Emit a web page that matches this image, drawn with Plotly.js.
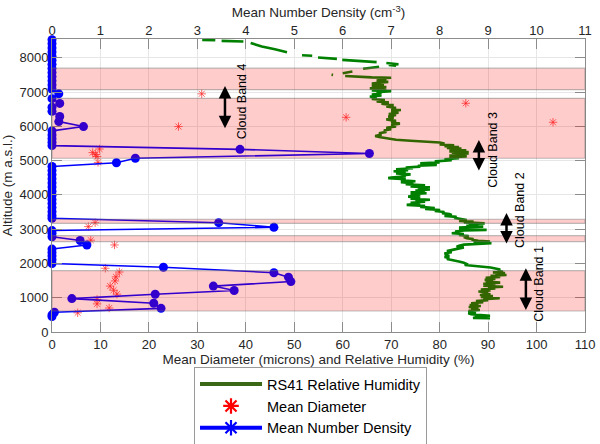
<!DOCTYPE html>
<html>
<head>
<meta charset="utf-8">
<script src="https://cdn.plot.ly/plotly-3.0.1.min.js"></script>
<style>body{margin:0;background:#fff}#chart{width:600px;height:444px}</style>
</head>
<body>
<div id="chart"></div>
<script>
// RS41 radiosonde relative humidity profile (null = gap in the record)
var rhAlt = [8525, 8515, 8510, 8495, 8475, 8460, 8435, 8330, 8250, 8165,
  8120, 8075, 8060, 8040, 8010, 7970, 7955, 7940, 7875, 7865,
  7850, 7815, 7790, 7770, 7760, 7740, 7710, 7680, 7650, 7600,
  7575, 7550, 7530, 7510, 7500, 7490, 7470, 7450, 7430, 7420, 7400,
  7360, 7330, 7300, 7250, 7220, 7180, 7150, 7110, 7080, 7050,
  7030, 7000, 6960, 6930, 6900, 6870, 6830, 6800, 6770, 6730,
  6700, 6660, 6620, 6580, 6540, 6500, 6480, 6440, 6400, 6360,
  6330, 6290, 6250, 6200, 6160, 6120, 6080, 6040, 6000, 5960,
  5920, 5880, 5840, 5800, 5760, 5720, 5690, 5650, 5610, 5580,
  5560, 5530, 5500, 5470, 5450, 5420, 5400, 5370, 5350, 5320,
  5300, 5270, 5250, 5230, 5210, 5190, 5170, 5150, 5120, 5100,
  5070, 5040, 5010, 4980, 4950, 4920, 4900, 4875, 4850, 4825,
  4800, 4780, 4750, 4720, 4690, 4660, 4630, 4600, 4570, 4540,
  4510, 4490, 4460, 4430, 4400, 4370, 4340, 4310, 4280, 4250,
  4220, 4190, 4160, 4130, 4100, 4080, 4050, 4020, 3990, 3950,
  3920, 3890, 3860, 3830, 3800, 3770, 3740, 3710, 3680, 3650,
  3620, 3590, 3560, 3530, 3500, 3470, 3440, 3415, 3390, 3360,
  3330, 3300, 3270, 3240, 3220, 3200, 3170, 3150, 3120, 3100,
  3075, 3050, 3030, 3000, 2980, 2960, 2930, 2900, 2880, 2860,
  2830, 2800, 2770, 2735, 2710, 2690, 2660, 2640, 2620, 2590,
  2570, 2550, 2520, 2490, 2470, 2445, 2420, 2390, 2360, 2330,
  2300, 2270, 2250, 2220, 2190, 2160, 2130, 2100, 2070, 2050,
  2020, 1990, 1955, 1930, 1905, 1880, 1850, 1820, 1790, 1760,
  1740, 1720, 1690, 1665, 1640, 1610, 1580, 1550, 1520, 1500,
  1470, 1440, 1410, 1380, 1350, 1320, 1300, 1270, 1240, 1210,
  1180, 1160, 1130, 1100, 1080, 1050, 1020, 985, 960, 930,
  900, 870, 840, 815, 790, 760, 730, 700, 670, 640,
  620, 595, 570, 545, 520, 490, 470, 450, 430, 410,
  400];
var rhVal = [31, 33.7, null, 35, 39.5, null, 41, 43.3, 46, 48.5,
  null, 51.6, 53.7, null, 54.9, 58.8, null, 59.9, 67, null,
  69, 71.5, 69.5, 71, null, 67.5, 66, 64.2, null, 62,
  61, 60, null, 57.7, 58, null, 60.5, 63, 66, 70, 67,
  69, 67, 69.4, 66, 68.5, 66, 69, 65.6, 69, 66,
  70, 67, 68, 66, 68, 65.6, 67, 66, 68.7, 67,
  69.5, 68, 70.5, 69, 71, 70, 72, 70, 71.5, 69.5,
  71, 69.4, 70.5, 69, 71, 70, 71.8, 70, 71, 69,
  70, 68.5, 69, 67.5, 68, 66.7, 67.5, 69.5, 71, 74,
  77, 80, 81, 80, 83, 81, 84, 81.5, 84.5, 82,
  85.5, 82, 86, 82.5, 86, 83, 85.6, 82, 85.6, 82,
  84, 81, 82.5, 79, 80, 76, 78.5, 79.4, 75.5, 76,
  73, 74.5, 71, 73.5, 70.5, 73, 71, 74, 72, 73,
  70, 69.4, 73, 72, 75, 72, 74.6, 73, 77, 74,
  78, 75.5, 78, 75, 77, 74, 77.3, 74, 76, 73.5,
  76, 74, 78, 75, 77, 74, 76, 73.2, 77, 76,
  79, 77, 80.1, 79, 81, 80.5, 82, 82.5, 81, 83.5,
  83, 85, 85.6, 84, 87, 85, 89.3, 86, 88, 85.5,
  89, 84, 86, 84, 89.7, 85, 83.2, 84, 82.5, 85,
  84, 86, 85, 85.6, 87, 86.6, 88, 90.4, 87, 90.7,
  86, 85, 84, 83.5, 85, 84.2, 83, 82, 81.5, 82.5,
  81, 81.5, 81.4, 82, 81, 82, 81.5, 82.5, 84, 84.2,
  85, 85.5, 85.2, 87, 89.7, 90.5, 91.5, 92.5, 92, 93.1,
  91, 93.5, 91.5, 93.8, 90.5, 92.5, 89.5, 91.5, 89.3, 91,
  89.5, 92.5, 89, 91.5, 89, 93.1, 90, 91.5, 88.5, 90.5,
  88, 90, 88.7, 90.5, 88.3, 91, 88.5, 92.4, 89, 90,
  87.5, 89, 86.5, 88, 86.2, 88.5, 86, 88, 86.5, 88.3,
  86, 86.2, 87.5, 85.9, 86.5, 89, 90.4, 88, 87, 86.9,
  90.4];

// mean particle diameter (microns)
var diamAlt = [6950, 6675, 6265, 6120, 5995, 5340, 5235, 5180, 5120, 4950,
  3190, 3075, 2680, 2540, 1860, 1750, 1610, 1490, 1340, 1220,
  1105, 950, 820, 700, 560];
var diamVal = [30.9, 85.4, 60.7, 103.4, 26.1, 9.8, 8.4, 9.0, 9.3, 9.5,
  8.9, 7.5, 8.0, 12.9, 11.0, 13.9, 13.2, 13.0, 12.0, 12.7,
  13.4, 9.3, 9.3, 11.8, 5.3];

// mean number density (cm^-3)
var ndAlt = [8530, 8410, 8290, 8170, 8050, 7930, 7810, 7690, 7570, 7450,
  7330, 7210, 7090, 6950, 6810, 6670, 6560, 6440, 6290, 6140,
  5995, 5870, 5750, 5640, 5540, 5440, 5330, 5210, 5070, 4940,
  4830, 4710, 4590, 4470, 4350, 4230, 4110, 3990, 3870, 3750,
  3630, 3510, 3400, 3320, 3190, 3055, 2960, 2880, 2780, 2670,
  2540, 2420, 2320, 2220, 2110, 2000, 1890, 1730, 1600, 1470,
  1340, 1210, 1100, 975, 840, 690, 575, 500, 450];
var ndVal = [0, 0, 0, 0, 0, 0, 0, 0, 0, 0,
  0, 0, 0, 0.14, 0, 0.16, 0, 0, 0.16, 0.14,
  0.65, 0, 0, 0, 0, 0, 3.88, 6.55, 1.72, 1.33,
  0, 0, 0, 0, 0, 0, 0, 0, 0, 0,
  0, 0, 0, 0, 3.44, 4.58, 0, 0, 0, 0.58,
  0.72, 0, 0, 0, 0, 0, 2.3, 4.58, 4.88, 4.93,
  3.33, 3.76, 2.13, 0.41, 2.1, 2.25, 0.05, 0, 0];

// cloud bands (m)
var bandBottom = [7070, 5070, 3170, 2640, 613];
var bandTop = [7700, 6820, 3290, 2810, 1790];

// cloud band labels: arrow x, arrow top/bottom, label x, label y
var bandNames = ['Cloud Band 4', 'Cloud Band 3', 'Cloud Band 2', 'Cloud Band 1'];
var arrowX = [35.7, 88.1, 93.8, 97.8];
var arrowTop = [7180, 5600, 3470, 1860];
var arrowBottom = [5900, 4670, 2540, 600];
var labelX = [39.2, 91.1, 96.6, 100.6];
var labelY = [6730, 5330, 3560, 1420];

var traces = [
  {
    type: 'scatter', mode: 'lines', name: 'RS41 Relative Humidity', showlegend: false,
    x: rhVal, y: rhAlt, connectgaps: false,
    line: {color: 'rgb(0,128,0)', width: 2.6}
  },
  {
    type: 'scatter', mode: 'markers', name: 'Mean Diameter', showlegend: false,
    x: diamVal, y: diamAlt,
    marker: {symbol: 'asterisk-open', size: 7, color: 'rgba(255,40,40,0.7)', line: {width: 1, color: 'rgba(255,40,40,0.7)'}}
  },
  {
    type: 'scatter', mode: 'lines+markers', name: 'Mean Number Density', showlegend: false,
    x: ndVal, y: ndAlt, xaxis: 'x2', cliponaxis: false,
    line: {color: 'rgb(0,0,255)', width: 1.6},
    marker: {symbol: 'circle', size: 9, color: 'rgb(0,0,255)'}
  },
  // legend-only entries, styled like the reference legend
  {
    type: 'scatter', mode: 'lines', name: 'RS41 Relative Humidity', x: [null], y: [null],
    line: {color: 'rgb(58,104,20)', width: 4}
  },
  {
    type: 'scatter', mode: 'markers', name: 'Mean Diameter', x: [null], y: [null],
    marker: {symbol: 'asterisk-open', size: 13, color: 'red', line: {width: 2.2, color: 'red'}}
  },
  {
    type: 'scatter', mode: 'lines+markers', name: 'Mean Number Density', x: [null], y: [null],
    line: {color: 'rgb(0,0,255)', width: 4},
    marker: {symbol: 'asterisk-open', size: 13, color: 'rgb(0,0,255)', line: {width: 2.2, color: 'rgb(0,0,255)'}}
  }
];

var shapes = bandBottom.map(function (b, i) {
  return {type: 'rect', xref: 'paper', yref: 'y', x0: 0, x1: 1, y0: b, y1: bandTop[i],
    layer: 'above', fillcolor: 'rgba(255,0,0,0.2)', line: {color: 'rgba(110,110,110,0.45)', width: 1.2}};
});

var annotations = [];
bandNames.forEach(function (n, i) {
  annotations.push({x: arrowX[i], y: arrowTop[i], ax: arrowX[i], ay: arrowBottom[i],
    xref: 'x', yref: 'y', axref: 'x', ayref: 'y', text: '', showarrow: true,
    arrowhead: 2, arrowside: 'end+start', arrowsize: 1, arrowwidth: 2.5, arrowcolor: 'black'});
  annotations.push({x: labelX[i], y: labelY[i], xref: 'x', yref: 'y', text: n, showarrow: false,
    textangle: -90, font: {size: 12.5, color: 'black'}});
});

var axisCommon = {ticks: 'inside', ticklen: 10, tickcolor: '#8c8c8c', zeroline: false,
  tickfont: {size: 13, color: '#262626'}};

var layout = {
  width: 600, height: 444,
  margin: {l: 52, r: 15, t: 39, b: 112, autoexpand: false},
  paper_bgcolor: 'white', plot_bgcolor: 'white',
  font: {family: 'Liberation Sans, Arial, sans-serif', size: 13, color: '#262626'},
  showlegend: true,
  legend: {x: 0.485, xanchor: 'center', y: -0.12, yanchor: 'top', bgcolor: 'white', itemwidth: 62,
    bordercolor: '#9a9a9a', borderwidth: 1, font: {size: 14.5, color: 'black'}},
  xaxis: Object.assign({}, axisCommon, {range: [0, 110], dtick: 10, showline: true, linecolor: '#8c8c8c',
    mirror: true, showgrid: true, gridcolor: '#e6e6e6', automargin: false,
    title: {text: 'Mean Diameter (microns) and Relative Humidity (%)', font: {size: 13.5, color: '#262626'}, standoff: 2}}),
  xaxis2: Object.assign({}, axisCommon, {overlaying: 'x', side: 'top', range: [0, 11], dtick: 1, showgrid: false,
    automargin: false,
    title: {text: 'Mean Number Density (cm<sup>-3</sup>)', font: {size: 13.5, color: '#262626'}, standoff: 2}}),
  yaxis: Object.assign({}, axisCommon, {range: [0, 8550], dtick: 1000, showline: true, linecolor: '#8c8c8c',
    mirror: 'ticks', showgrid: true, gridcolor: '#e6e6e6', automargin: false,
    title: {text: 'Altitude (m a.s.l.)', font: {size: 13.5, color: '#262626'}, standoff: 4}}),
  shapes: shapes,
  annotations: annotations
};

Plotly.newPlot('chart', traces, layout, {displayModeBar: false, staticPlot: true});
</script>
</body>
</html>
